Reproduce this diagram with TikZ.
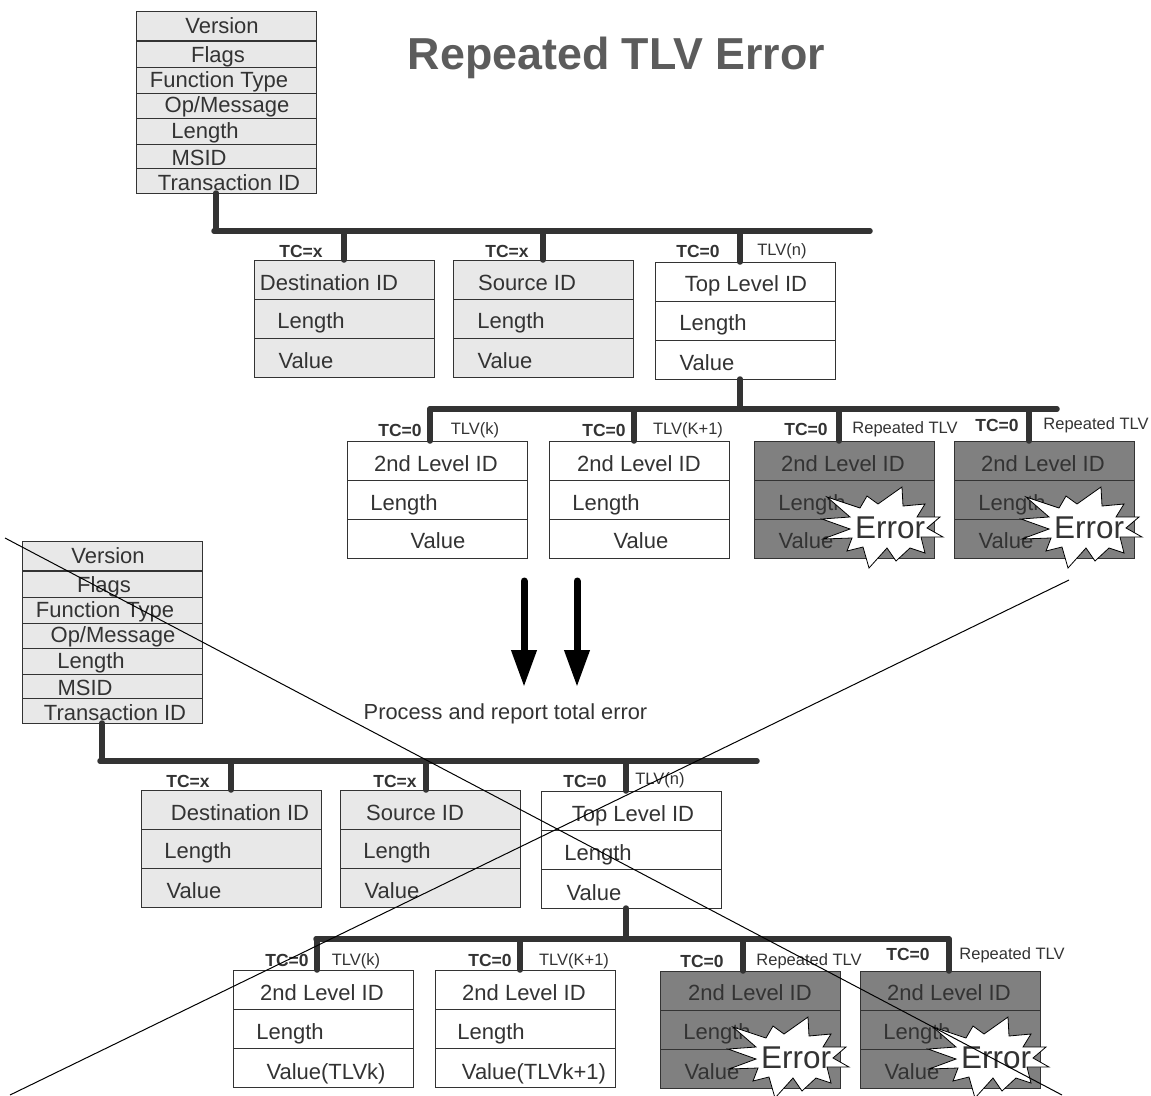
\documentclass[tikz,border=0pt]{standalone}
\usepackage{fontspec}
\setmainfont{Liberation Sans}
\usetikzlibrary{arrows.meta}
\definecolor{inkgray}{HTML}{333333}
\definecolor{lightbox}{HTML}{E8E8E8}
\definecolor{darkbox}{HTML}{808080}
\tikzset{
    rowlight/.style={draw=inkgray,fill=lightbox,line width=1,minimum width=180,inner sep=0,outer sep=0},
    rowwhite/.style={rowlight,fill=white},
    rowdark/.style={rowlight,fill=darkbox},
    rowtxt/.style={anchor=base,inner sep=0,text=inkgray,font=\fontsize{22}{24}\selectfont},
    tctxt/.style={anchor=base,inner sep=0,text=inkgray,font=\bfseries\fontsize{17.5}{20}\selectfont},
    tlvtxt/.style={anchor=base,inner sep=0,text=inkgray,font=\fontsize{16.5}{20}\selectfont},
    bus/.style={line width=5.5,draw=inkgray,line cap=round},
    downarrow/.style={line width=7,line cap=round,-{Triangle[length=37,width=24]}},
    crossline/.style={line width=1,draw=black},
    errburst/.pic={
        \draw[fill=white,draw=black,line width=.8] (-53,-30) -- (-20,-19) -- (-13,-31) -- (-2,-23) -- (22,-40) -- (23,-21) -- (45,-23) -- (37,-10) -- (60,-10) -- (47,1) -- (63,10) -- (41,10) -- (45,26) -- (30,21) -- (16,34) -- (7,21) -- (-11,41) -- (-17,20) -- (-33,24) -- (-28,11) -- (-57,12) -- (-30,2) -- (-58,-8) -- (-30,-10) -- cycle;
        \node[rowtxt,font=\fontsize{31.5}{34}\selectfont] (-txt) at (10,11) {Error};
    }
}
\begin{document}
\begin{tikzpicture}[x=1pt,y=-1pt]
        \useasboundingbox (0,0) rectangle (1151,1095);

        \node[anchor=base,inner sep=0,text=inkgray!80,font=\bfseries\fontsize{44.8}{48}\selectfont] (title) at (616.5,69) {Repeated TLV Error};

        % header stacks, the lower one is the upper one moved
        \foreach \p/\dx/\dy in {a/0/0,b/-114/530}{
            \foreach \n/\y/\h/\tx/\ty/\t in {ver/26/29/222/33/Version,flg/54/26/218/62/Flags,fun/80/26/219/87/Function Type,opm/105.5/25/227/112/{Op/Message},len/131/26/205/138/Length,msi/156/24/199/165/MSID,tra/180.5/25/229/190/Transaction ID}{
                \node[rowlight,minimum height=\h] (\p\n) at (226+\dx,\y+\dy) {};
                \node[rowtxt] (\p\n txt) at (\tx+\dx,\ty+\dy) {\t};
            }
        }

        % tlv boxes, three rows each
        \foreach \n/\x/\y/\s in {dest/344.5/260/rowlight,src/543.5/260/rowlight,top/745/262/rowwhite,ka/437/441/rowwhite,kb/639/441/rowwhite,rpa/844/441/rowdark,rpb/1044/441/rowdark,destb/231/790/rowlight,srcb/430/790/rowlight,topb/631.5/791/rowwhite,kc/323.5/970/rowwhite,kd/525/970/rowwhite,rpc/750/971/rowdark,rpd/950/971/rowdark}{
            \foreach \r in {0,1,2}{
                \node[\s,minimum height=39] (\n\r) at (\x,\y+19.5+\r*39) {};
            }
        }

        \foreach \x/\y/\t in {329/290/Destination ID,311/328/Length,306/368/Value,527/290/Source ID,511/328/Length,505/368/Value,746/291/Top Level ID,713/330/Length,707/370/Value,436/471/2nd Level ID,404/510/Length,438/548/Value,639/471/2nd Level ID,606/510/Length,641/548/Value,843/471/2nd Level ID,812/510/Length,806/548/Value,1043/471/2nd Level ID,1012/510/Length,1006/548/Value,240/820/Destination ID,198/858/Length,194/898/Value,415/820/Source ID,397/858/Length,392/898/Value,633/821/Top Level ID,598/860/Length,594/900/Value,322/1000/2nd Level ID,290/1039/Length,326/1079/Value(TLVk),524/1000/2nd Level ID,491/1039/Length,534/1079/Value(TLVk+1),750/1000/2nd Level ID,717/1039/Length,712/1079/Value,949/1000/2nd Level ID,917/1039/Length,912/1079/Value}{
            \node[rowtxt] (r\x-\y) at (\x,\y) {\t};
        }

        \foreach \x/\y/\t in {301/257/TC=x,507/257/TC=x,698/257/TC=0,400/436/TC=0,604/436/TC=0,806/435/TC=0,997/431/TC=0,188/787/TC=x,395/787/TC=x,585/787/TC=0,287/966/TC=0,490/966/TC=0,702/967/TC=0,908/960/TC=0}{
            \node[tctxt] (c\x-\y) at (\x,\y) {\t};
        }
        \foreach \x/\y/\t in {782/255/TLV(n),475/434/TLV(k),688/434/TLV(K+1),905/433/Repeated TLV,1096/429/Repeated TLV,660/784/TLV(n),356/965/TLV(k),574/965/TLV(K+1),809/965/Repeated TLV,1012/959/Repeated TLV}{
            \node[tlvtxt] (l\x-\y) at (\x,\y) {\t};
        }

        % trunks and their stubs
        \coordinate (busa) at (214,231);
        \coordinate (busb) at (870,231);
        \coordinate (busc) at (430,409);
        \coordinate (busd) at (1057,409);
        \coordinate (buse) at (100,761);
        \coordinate (busf) at (757,761);
        \coordinate (busg) at (316,939);
        \coordinate (bush) at (949,939);
        \foreach \a/\b in {busa/busb,busc/busd,buse/busf,busg/bush}{
            \draw[bus] (\a) -- (\b);
        }
        \foreach \x/\b/\c in {216/atra/busa,102/btra/buse,740/top2/busc,626/topb2/busg}{
            \draw[bus] (\x,0 |- \b.south) -- (\x,0 |- \c);
        }
        \foreach \x/\b/\c in {344/dest0/busa,543/src0/busa,740/top0/busa,430/ka0/busc,634/kb0/busc,839/rpa0/busc,1029/rpb0/busc,231/destb0/buse,426/srcb0/buse,626/topb0/buse,317/kc0/busg,520/kd0/busg,743/rpc0/busg,949/rpd0/busg}{
            \draw[bus] (\x,0 |- \c) -- (\x,0 |- \b.north);
        }

        \pic (bursta) at (880,527) {errburst};
        \pic (burstb) at (1079,527) {errburst};
        \pic (burstc) at (786,1057) {errburst};
        \pic (burstd) at (986,1057) {errburst};

        \coordinate (arra) at (524,581);
        \coordinate (arrb) at (524,687);
        \coordinate (arrc) at (577,581);
        \coordinate (arrd) at (577,687);
        \draw[downarrow] (arra) -- (arrb);
        \draw[downarrow] (arrc) -- (arrd);
        \node[rowtxt,font=\fontsize{21.8}{24}\selectfont] (report) at (505.5,719) {Process and report total error};

        \coordinate (crossa) at (5,538);
        \coordinate (crossb) at (1062,1095);
        \coordinate (crossc) at (10,1095);
        \coordinate (crossd) at (1069,580);
        \draw[crossline] (crossa) -- (crossb);
        \draw[crossline] (crossc) -- (crossd);
    \end{tikzpicture}
\end{document}
